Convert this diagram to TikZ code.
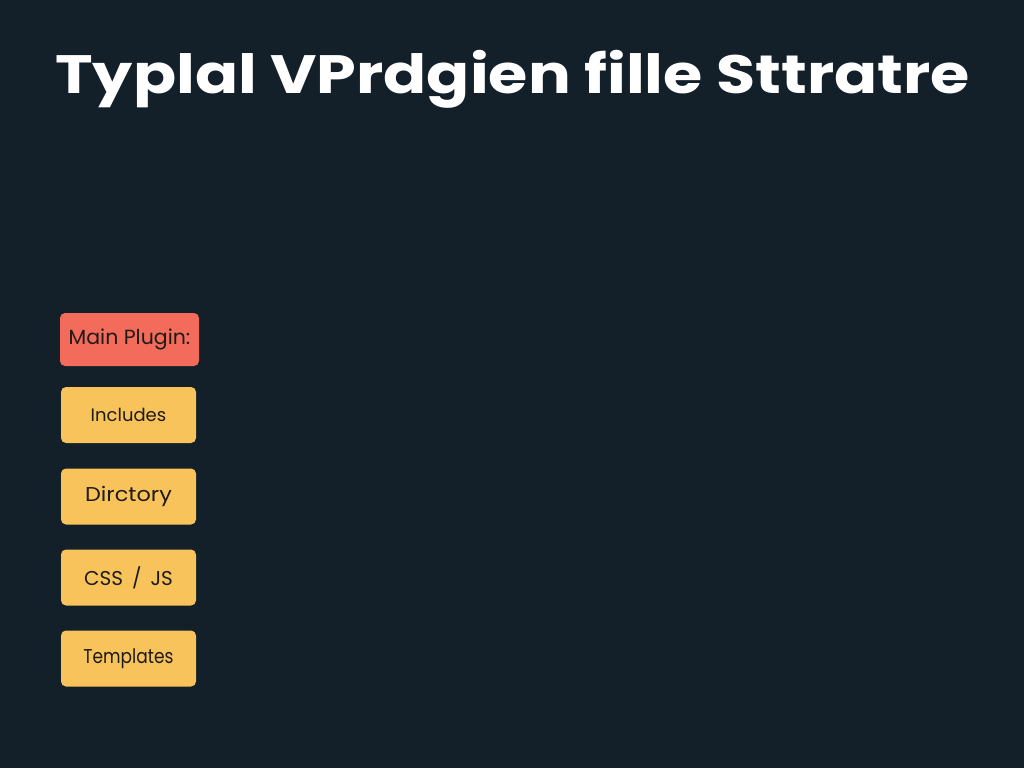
\documentclass[tikz,border=0pt]{standalone}
\usepackage{fontspec}
\setmainfont{Poppins}
\definecolor{bg}{HTML}{131F29}
\definecolor{redbox}{HTML}{F36B5B}
\definecolor{yelbox}{HTML}{F8C35A}
\definecolor{ink}{HTML}{1E1B18}
\newcommand{\fs}[1]{\fontsize{#1}{#1}\selectfont}
\begin{document}
\begin{tikzpicture}[x=1pt,y=-1pt,
  box/.style={rounded corners=5pt, inner sep=0pt, text=ink},
  ybox/.style={box, fill=yelbox, minimum width=135pt, minimum height=56pt},
  rbox/.style={box, fill=redbox, minimum width=139pt, minimum height=53pt}]
\fill[bg] (0,0) rectangle (1024,768);
\useasboundingbox (0,0) rectangle (1024,768);
\node[text=white, font=\fs{60}\bfseries, anchor=base, inner sep=0pt] (title) at (512.5,93) {\scalebox{1.06}[0.9]{Typlal VPrdgien fille Sttratre}};
\node[rbox, font=\fs{20.5}] (main) at (129.5,339.5) {Main Plugin:};
\node[ybox, font=\fs{18}] (inc) at (128.5,415) {Includes};
\node[ybox, font=\fs{20}] (dir) at (128.5,496.5) {\scalebox{1.12}[1]{Dirctory}};
\node[ybox, font=\fs{20}] (css) at (128.5,577.5) {CSS\hspace{0.45em}/\hspace{0.45em}JS};
\node[ybox, font=\fs{20}] (tpl) at (128.5,658.5) {\scalebox{0.85}[1]{Templates}};
\end{tikzpicture}
\end{document}
